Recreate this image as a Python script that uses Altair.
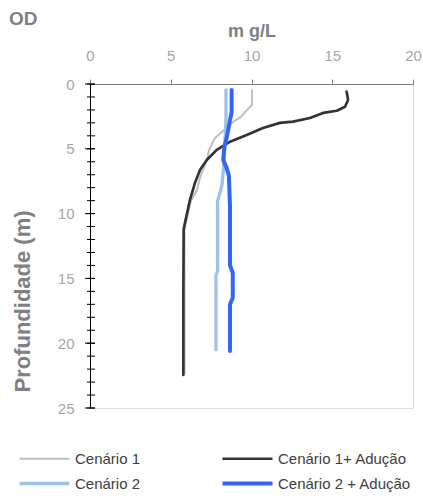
import altair as alt
import pandas as pd

series_names = ["Cenário 1", "Cenário 1+ Adução", "Cenário 2", "Cenário 2 + Adução"]
series_colors = ["#bfbfbf", "#333333", "#9dc3e6", "#3366f5"]
series_widths = [2, 4, 2, 4]

c1_x = [10.03, 10.03, 9.29, 8.85, 8.30, 7.74, 7.37, 7.24, 6.81, 6.63, 6.25, 5.95, 5.85, 5.85]
c1_d = [0.46, 1.60, 2.60, 2.93, 3.54, 4.16, 5.08, 5.86, 7.24, 8.17, 9.00, 10.70, 11.20, 22.30]

c1a_x = [15.89, 15.98, 15.79, 15.28, 14.43, 13.62, 12.57, 11.76, 10.71, 9.70, 8.67, 7.85, 7.23, 6.81, 6.50, 6.19, 5.88, 5.80, 5.78, 5.78]
c1a_d = [0.59, 1.23, 1.75, 2.06, 2.23, 2.62, 2.90, 3.00, 3.39, 3.93, 4.45, 5.08, 5.86, 6.63, 7.63, 8.94, 10.70, 11.20, 16.00, 22.45]

c2_x = [8.42, 8.42, 8.36, 8.30, 8.17, 8.05, 7.90, 7.90, 7.80, 7.80]
c2_d = [0.46, 2.77, 4.30, 6.10, 7.80, 8.40, 9.00, 14.40, 14.80, 20.50]

c2a_x = [8.77, 8.77, 8.67, 8.50, 8.32, 8.25, 8.46, 8.60, 8.67, 8.67, 8.84, 8.84, 8.67, 8.67]
c2a_d = [0.46, 2.16, 2.77, 3.93, 4.85, 5.86, 6.47, 7.09, 9.48, 14.00, 14.56, 16.50, 17.00, 20.60]

minor_ticks = list(range(0, 26))
major_ticks = [0, 5, 10, 15, 20, 25]
x_ticks = [0, 5, 10, 15, 20]

rows = []
for name, xs, ds in [(series_names[0], c1_x, c1_d), (series_names[2], c2_x, c2_d),
                     (series_names[1], c1a_x, c1a_d), (series_names[3], c2a_x, c2a_d)]:
    for i, (x, d) in enumerate(zip(xs, ds)):
        rows.append({"serie": name, "mgL": x, "prof": d, "idx": i})
df = pd.DataFrame(rows)

FONT = "Liberation Sans"
xscale = alt.Scale(domain=[0, 20], nice=False, zero=False)
yscale = alt.Scale(domain=[0, 25], reverse=True, nice=False, zero=False)

legend = alt.Legend(
    title=None, orient="none", legendX=-78, legendY=367, columns=2,
    direction="horizontal",
    symbolType="M0,0h50", symbolSize=4, labelOffset=48, columnPadding=73,
    rowPadding=8, padding=0, labelFont=FONT, labelFontSize=15,
    labelColor="#404040", symbolOpacity=1,
)

lines = alt.Chart(df).mark_line(strokeCap="round", strokeJoin="round").encode(
    x=alt.X("mgL:Q", scale=xscale, axis=alt.Axis(
        orient="top", values=x_ticks, title="m g/L", grid=False, tickSize=5,
        tickColor="#7f7f7f", domainColor="#7f7f7f", labelColor="#a6a6a6",
        labelFont=FONT, labelFontSize=15, labelPadding=16, labelFlush=False,
        titleFont=FONT, titleFontSize=18, titleFontWeight="bold",
        titleColor="#808080", titlePadding=8)),
    y=alt.Y("prof:Q", scale=yscale, axis=alt.Axis(
        values=major_ticks, title="Profundidade (m)", grid=False, ticks=False,
        tickSize=0, domainColor="#000000", labelColor="#a6a6a6", labelFont=FONT,
        labelFontSize=15, labelPadding=16, labelFlush=False, titleFont=FONT, titleFontSize=22,
        titleFontWeight="bold", titleColor="#808080", titleAngle=270,
        titleX=-61, titleY=217, titleBaseline="alphabetic", titleAlign="center")),
    color=alt.Color("serie:N", scale=alt.Scale(domain=series_names, range=series_colors), legend=legend),
    strokeWidth=alt.StrokeWidth("serie:N", scale=alt.Scale(domain=series_names, range=series_widths), legend=legend),
    order=alt.Order("idx:Q"),
)

minor = alt.Chart(pd.DataFrame({"t": minor_ticks})).mark_rule(color="#000000", strokeWidth=1).encode(
    y=alt.Y("t:Q", scale=yscale), x=alt.value(-3), x2=alt.value(5))
major = alt.Chart(pd.DataFrame({"t": major_ticks})).mark_rule(color="#000000", strokeWidth=1).encode(
    y=alt.Y("t:Q", scale=yscale), x=alt.value(-5), x2=alt.value(5))

chart = alt.layer(minor, major, lines).properties(
    width=323, height=324,
    autosize=alt.AutoSizeParams(type="none"),
    padding={"left": 90, "top": 84, "right": 10, "bottom": 91},
    title=alt.TitleParams("OD", anchor="start", frame="bounds", font=FONT, fontSize=19,
                          fontWeight="bold", color="#808080", dx=-2, dy=11),
).configure_view(stroke=None).configure(background="white")

chart.save("out.html", embed_options={"renderer": "svg", "actions": False})
